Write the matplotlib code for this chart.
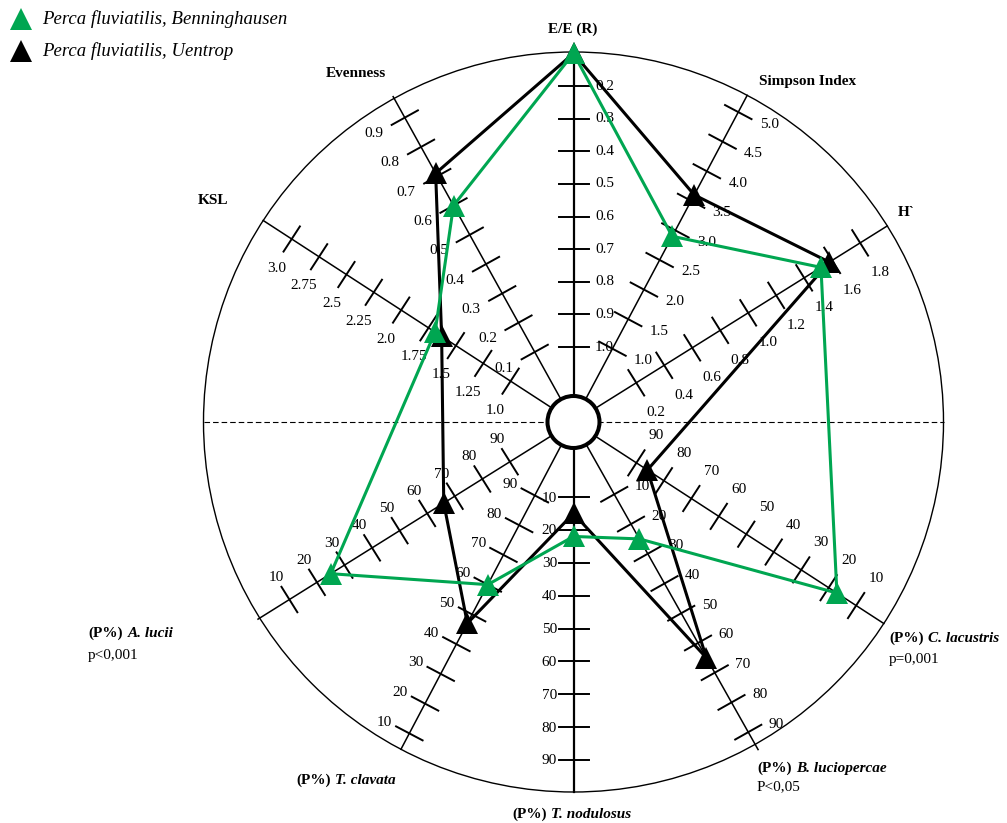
import numpy as np
import matplotlib
matplotlib.use("Agg")
import matplotlib.pyplot as plt
from matplotlib.patches import Circle

plt.rcParams['font.family'] = ['Liberation Serif', 'DejaVu Serif']

# ---------------------------------------------------------------- data
axis_names = ["E/E (R)", "Simpson Index", "H`", "C. lacustris", "B. luciopercae",
              "T. nodulosus", "T. clavata", "A. lucii", "KSL", "Evenness"]

# tick labels of each axis, listed from the centre outwards
ee_labels = ["1.0", "0.9", "0.8", "0.7", "0.6", "0.5", "0.4", "0.3", "0.2"]
simpson_labels = ["1.0", "1.5", "2.0", "2.5", "3.0", "3.5", "4.0", "4.5", "5.0"]
h_labels = ["0.2", "0.4", "0.6", "0.8", "1.0", "1.2", "1.4", "1.6", "1.8"]
clac_labels = ["90", "80", "70", "60", "50", "40", "30", "20", "10"]
bluc_labels = ["10", "20", "30", "40", "50", "60", "70", "80", "90"]
tnod_labels = ["10", "20", "30", "40", "50", "60", "70", "80", "90"]
tclav_labels = ["90", "80", "70", "60", "50", "40", "30", "20", "10"]
aluc_labels = ["90", "80", "70", "60", "50", "40", "30", "20", "10"]
ksl_labels = ["1.0", "1.25", "1.5", "1.75", "2.0", "2.25", "2.5", "2.75", "3.0"]
even_labels = ["0.1", "0.2", "0.3", "0.4", "0.5", "0.6", "0.7", "0.8", "0.9"]

tick_labels = [ee_labels, simpson_labels, h_labels, clac_labels, bluc_labels,
               tnod_labels, tclav_labels, aluc_labels, ksl_labels, even_labels]

series_names = ["Perca fluviatilis, Benninghausen", "Perca fluviatilis, Uentrop"]
benninghausen = [0.1, 2.9, 1.52, 17, 25, 22, 60, 25, 1.69, 0.60]
uentrop = [0.1, 3.6, 1.58, 86, 65, 15, 47, 66, 1.63, 0.71]

# ---------------------------------------------------------------- layout
W, H = 1007, 823
CX, CY = 573.5, 422.0
R_OUT = 370.0
R_IN = 26.0
axis_angle = [90, 62, 32, -33, -60.6, -90, -117.8, -148, 147, 119]
axis_len = [370, 370, 370, 370, 376, 370, 370, 372, 370, 372]
tick_r_first = [75, 83, 74, 75, 83, 75, 83, 75, 75, 80]
tick_r_last = [336, 351, 338, 337, 356, 338, 352, 335, 336, 348]
label_shift = [(31, 0), (31, 12), (20, 30), (20, -27), (28, -8),
               (-24, 1), (-25, -11), (-13, -22), (-15, 29), (-31, 16)]
TICK_HALF = 15

GREEN = '#00a651'
BLACK = '#000000'


def polar(angle_deg, r):
    a = np.deg2rad(angle_deg)
    return CX + r * np.cos(a), CY - r * np.sin(a)


def value_radius(i, v):
    vals = [float(s) for s in tick_labels[i]]
    v0, v1 = vals[0], vals[-1]
    return tick_r_first[i] + (v - v0) / (v1 - v0) * (tick_r_last[i] - tick_r_first[i])


fig = plt.figure(figsize=(W / 100, H / 100), dpi=100)
ax = fig.add_axes([0, 0, 1, 1])
ax.set_xlim(0, W)
ax.set_ylim(H, 0)
ax.axis('off')

# outer ring and horizontal dashed divider
ax.add_patch(Circle((CX, CY), R_OUT, fill=False, ec='black', lw=1.0, zorder=1))
ax.plot([CX - R_OUT, CX + R_OUT], [CY, CY], color='black', lw=0.8,
        ls=(0, (5, 2.7)), zorder=1)

# spokes, ticks and tick labels
for i, ang in enumerate(axis_angle):
    x0, y0 = polar(ang, R_IN)
    x1, y1 = polar(ang, axis_len[i])
    lw = 1.6 if ang in (90, -90) else 1.1
    ax.plot([x0, x1], [y0, y1], color='black', lw=lw, zorder=2)
    a = np.deg2rad(ang)
    px, py = np.sin(a), np.cos(a)
    for lab in tick_labels[i]:
        r = value_radius(i, float(lab))
        tx, ty = polar(ang, r)
        ax.plot([tx - TICK_HALF * px, tx + TICK_HALF * px],
                [ty - TICK_HALF * py, ty + TICK_HALF * py],
                color='black', lw=1.4, zorder=2)
        dx, dy = label_shift[i]
        ax.text(tx + dx, ty + dy, lab, fontsize=11, ha='center', va='center',
                zorder=3)

# central hub
ax.add_patch(Circle((CX, CY), R_IN, fc='white', ec='black', lw=2.9, zorder=4))

# series polygons
for vals, col, z in [(uentrop, BLACK, 5), (benninghausen, GREEN, 7)]:
    pts = [polar(axis_angle[i], value_radius(i, v)) for i, v in enumerate(vals)]
    xs = [p[0] for p in pts] + [pts[0][0]]
    ys = [p[1] for p in pts] + [pts[0][1]]
    ax.plot(xs, ys, color=col, lw=2.2, zorder=z, solid_joinstyle='round')
    ax.plot(xs[:-1], ys[:-1], ls='none', marker='^', ms=16, mew=0, color=col,
            zorder=z + 1)

# legend
for (ly, col, name) in [(19, GREEN, series_names[0]), (51, BLACK, series_names[1])]:
    ax.plot([20.5], [ly], ls='none', marker='^', ms=16, mew=0, color=col)
    ax.text(42, ly, name, fontsize=13.5, style='italic', ha='left', va='center')

# axis titles
ax.text(573, 29, axis_names[0], fontsize=11, fontweight='bold', ha='center', va='center')
ax.text(808, 81, axis_names[1], fontsize=11, fontweight='bold', ha='center', va='center')
ax.text(906, 212, axis_names[2], fontsize=11, fontweight='bold', ha='center', va='center')
ax.text(213, 200, axis_names[8], fontsize=11, fontweight='bold', ha='center', va='center')
ax.text(356, 73, axis_names[9], fontsize=11, fontweight='bold', ha='center', va='center')


def species_title(x, y, species, note=None, note_dy=22):
    t = ax.text(x, y, "(P%)", fontsize=11, fontweight='bold', ha='left', va='center')
    ax.annotate(species, xy=(1, 0), xycoords=t, xytext=(3.5, 0),
                textcoords='offset points', fontsize=11, fontweight='bold',
                style='italic', ha='left', va='bottom')
    if note:
        ax.text(x, y + note_dy, note, fontsize=11, ha='left', va='center')


species_title(889, 638, axis_names[3], "p=0,001")
species_title(757, 768, axis_names[4], "P<0,05", 19)
species_title(512, 814, axis_names[5])
species_title(296, 780, axis_names[6])
species_title(88, 633, axis_names[7], "p<0,001")

fig.savefig('out.png', dpi=100)
